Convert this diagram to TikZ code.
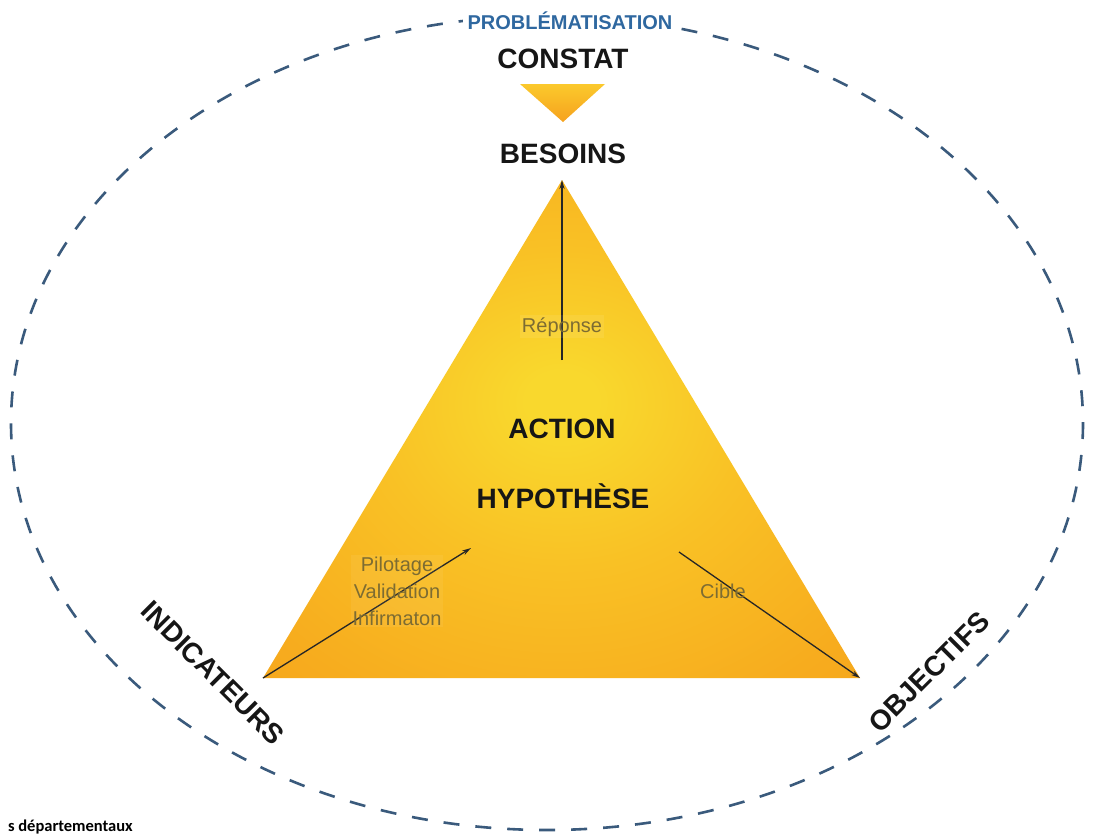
\documentclass[tikz,border=0pt]{standalone}
\usepackage{fontspec}
\setmainfont{Liberation Sans}
\newfontfamily\carl{Carlito}
\usetikzlibrary{arrows.meta}
\definecolor{yel}{HTML}{F9D82D}
\definecolor{ymid}{HTML}{F9C125}
\definecolor{org}{HTML}{F7AC1E}
\definecolor{orgdeep}{HTML}{F39C18}
\definecolor{ellblue}{HTML}{3A5A7C}
\definecolor{problue}{HTML}{2F68A0}
\definecolor{txt}{HTML}{161616}
\definecolor{lbl}{HTML}{7D6C32}
\definecolor{ctop}{HTML}{FBC92C}
\definecolor{cbot}{HTML}{F6A21E}
\pgfdeclareradialshading{trishade}{\pgfpoint{0bp}{3bp}}{color(0bp)=(yel); color(3bp)=(yel); color(16bp)=(ymid); color(32bp)=(org); color(50bp)=(orgdeep)}
\begin{document}
\begin{tikzpicture}[x=1pt,y=-1pt,
  bigtxt/.style={font=\fontsize{28}{32}\selectfont\bfseries, text=txt, inner sep=0pt},
  lbltxt/.style={font=\fontsize{20}{27}\selectfont, text=lbl, inner sep=2pt, align=center},
  conn/.style={draw=black!85, line width=1.3pt, -{Stealth[length=9pt,width=5pt]}},
  cycle/.style={draw=ellblue, line width=2.6pt, dash pattern=on 16pt off 16pt}]
\useasboundingbox (0,0) rectangle (1094,836);
\clip (0,0) rectangle (1094,836);
\fill[white] (0,0) rectangle (1094,836);
% dashed ellipse
\draw[cycle] (547,423) ellipse [x radius=536, y radius=407];
\node[fill=white, inner xsep=5pt, inner ysep=3pt, font=\fontsize{20}{24}\selectfont\bfseries, text=problue, anchor=base] (prob) at (570,29) {PROBLÉMATISATION};
% top
\node[bigtxt, anchor=base] (constat) at (563,68) {CONSTAT};
\coordinate (ct1) at (520,84);
\coordinate (ct2) at (605,84);
\coordinate (ct3) at (563,122);
\shade[top color=ctop, bottom color=cbot] (ct1) -- (ct2) -- (ct3) -- cycle;
\node[bigtxt, anchor=base] (besoins) at (563,163) {BESOINS};
% main triangle
\coordinate (apex) at (562,180);
\coordinate (bl) at (263,678);
\coordinate (br) at (860,678);
\shade[shading=trishade] (apex) -- (br) -- (bl) -- cycle;
% inner texts
\node[bigtxt, anchor=base] (action) at (562,438) {ACTION};
\node[bigtxt, anchor=base] (hyp) at (563,508) {HYPOTHÈSE};
\coordinate (repstart) at (562,360);
\coordinate (pilend) at (471,548);
\coordinate (cibstart) at (679,552);
\draw[conn] (repstart) -- (apex);
\draw[conn] (bl) -- (pilend);
\draw[conn] (cibstart) -- (br);
\node[lbltxt, anchor=base, fill=white, fill opacity=0.08, text opacity=1] (rep) at (562,332) {Réponse};
\node[lbltxt, fill=white, fill opacity=0.06, text opacity=1] (pil) at (397,591) {Pilotage\\Validation\\Infirmaton};
\node[lbltxt, anchor=base] (cible) at (723,598) {Cible};
% corner labels
\node[bigtxt, rotate=-45] (ind) at (213,673) {INDICATEURS};
\node[bigtxt, rotate=45] (obj) at (929,672) {OBJECTIFS};
% footer fragment
\node[font=\carl\bfseries\fontsize{16.5}{19}\selectfont, anchor=base east, inner sep=0pt] (foot) at (133,831) {s départementaux};
\end{tikzpicture}
\end{document}
